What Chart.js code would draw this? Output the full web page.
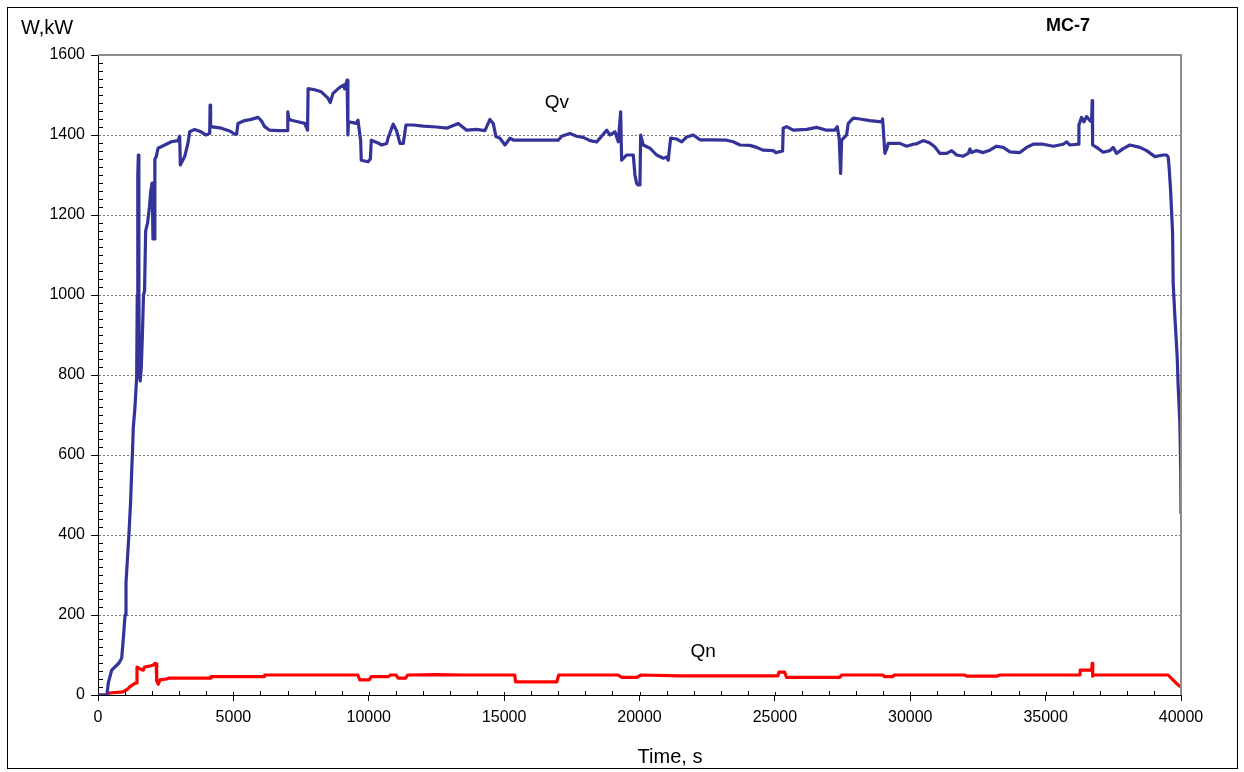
<!DOCTYPE html>
<html><head><meta charset="utf-8">
<script src="https://cdn.jsdelivr.net/npm/chart.js@4.4.0/dist/chart.umd.min.js"></script>
<style>html,body{margin:0;padding:0;background:#fff}#wrap{width:1244px;height:772px;position:relative}</style>
</head><body><div id="wrap"><canvas id="c"></canvas></div>
<script>
const qvTime=[0,330,380,505,775,875,925,1000,1034,1145,1207,1245,1280,1305,1366,1428,1450,1470,1490,1510,1530,1560,1600,1640,1680,1720,1760,1830,1900,1950,2000,2030,2070,2100,2153,2216,2463,2707,2954,3017,3040,3065,3202,3324,3387,3571,3804,3988,4125,4140,4160,4553,4864,5048,5120,5170,5418,5661,5909,6031,6156,6341,6647,6991,7010,7050,7139,7386,7633,7740,7760,8003,8247,8494,8579,8679,8926,9085,9111,9200,9230,9250,9539,9602,9700,9724,9971,10060,10093,10340,10477,10662,10721,10846,10905,11031,11153,11275,11374,11644,12013,12508,12877,13306,13616,13985,14292,14477,14598,14698,14846,15031,15216,15363,16999,17125,17431,17679,17923,18170,18418,18539,18786,18908,19093,19215,19304,19340,19525,19770,19832,19894,19953,20016,20042,20138,20385,20633,20877,21002,21061,21150,21372,21556,21741,21985,22232,22723,23218,23462,23709,24078,24326,24570,24939,25039,25286,25308,25433,25677,26172,26541,26911,27218,27302,27376,27428,27465,27650,27709,27894,28141,28510,28942,28979,29064,29149,29186,29619,29865,30110,30235,30479,30726,30911,31095,31343,31530,31713,31956,32141,32204,32266,32451,32694,32942,33189,33433,33681,34050,34297,34543,34912,35280,35649,35775,35897,36204,36229,36328,36413,36513,36635,36698,36720,36735,36882,37126,37374,37496,37620,37866,38112,38482,38729,39036,39342,39467,39527,39560,39615,39689,39711,39774,39859,39896,39958,39990,40000];
const qvValue=[0,0,30,62,80,92,132,200,280,405,487,562,620,670,720,795,1000,1300,1350,1000,800,785,820,900,1000,1010,1160,1180,1220,1260,1280,1140,1140,1340,1346,1367,1375,1383,1386,1397,1325,1325,1346,1380,1408,1414,1408,1400,1404,1475,1421,1417,1410,1402,1402,1429,1436,1439,1444,1436,1421,1412,1411,1411,1458,1440,1437,1433,1429,1412,1516,1513,1508,1492,1481,1504,1519,1525,1515,1537,1400,1433,1429,1437,1387,1337,1333,1340,1387,1380,1375,1379,1394,1417,1427,1410,1379,1379,1425,1425,1422,1420,1417,1429,1412,1414,1411,1439,1429,1396,1392,1375,1392,1387,1387,1397,1404,1397,1394,1386,1383,1392,1412,1400,1408,1383,1458,1337,1350,1350,1300,1279,1275,1275,1400,1375,1367,1350,1342,1345,1337,1392,1390,1383,1395,1400,1388,1388,1387,1383,1375,1374,1369,1362,1361,1356,1360,1417,1421,1412,1414,1419,1412,1412,1421,1392,1304,1387,1400,1429,1442,1440,1436,1433,1440,1354,1369,1379,1379,1372,1377,1378,1386,1380,1370,1354,1354,1361,1350,1347,1354,1365,1356,1361,1356,1362,1372,1369,1358,1356,1369,1377,1377,1372,1377,1383,1375,1377,1425,1444,1433,1446,1436,1433,1486,1375,1369,1357,1361,1369,1354,1366,1375,1369,1361,1346,1350,1350,1345,1320,1262,1155,1030,946,846,771,680,560,455];
const qnTime=[0,330,420,923,1100,1182,1366,1420,1440,1560,1673,1720,1900,2050,2105,2150,2168,2227,2290,2537,2600,4155,4170,6134,6150,9598,9669,10023,10093,10728,10798,11012,11083,11363,11434,12500,13500,15392,15420,16947,17017,19207,19351,19900,20057,21493,25112,25150,25358,25433,27400,27465,28990,29050,29360,29400,32000,32100,33200,33300,36265,36280,36700,36720,36740,36757,39527,39711,39896,40000];
const qnValue=[0,0,5,8,15,21,29,30,70,65,62,70,72,75,79,78,35,27,38,40,42,42,46,46,50,50,38,38,46,46,50,50,42,42,50,51,50,50,33,33,50,50,44,44,50,48,48,57,57,44,44,50,50,46,46,50,50,47,47,50,50,62,62,79,47,50,50,37,25,20];
const xTickValues=[0,5000,10000,15000,20000,25000,30000,35000,40000];
const yTickValues=[0,200,400,600,800,1000,1200,1400,1600];
const seriesNames=['Qv','Qn'];

const FONT="'Liberation Sans', Arial, sans-serif";
const L=98,R=1181,T=55,B=695;

const extras={
  id:'extras',
  afterDraw(chart){
    const ctx=chart.ctx, xs=chart.scales.x, ys=chart.scales.y;
    ctx.save();
    ctx.strokeStyle='#000';ctx.lineWidth=1;
    ctx.strokeRect(7.5,7.5,1230,761);
    ctx.strokeStyle='#8c8c8c';ctx.lineWidth=2;
    ctx.beginPath();ctx.moveTo(L,T);ctx.lineTo(R,T);ctx.lineTo(R,B);ctx.stroke();
    ctx.strokeStyle='#000';ctx.lineWidth=1;
    ctx.beginPath();
    for(let v=20;v<1600;v+=20){ if(v%200===0) continue; const y=Math.round(ys.getPixelForValue(v))+0.5; ctx.moveTo(L,y);ctx.lineTo(L+5,y);}
    for(let t=1000;t<40000;t+=1000){ const x=Math.round(xs.getPixelForValue(t))+0.5; ctx.moveTo(x,B);ctx.lineTo(x,B-(t%5000===0?3:4));}
    ctx.stroke();
    ctx.fillStyle='#000';ctx.textBaseline='middle';
    ctx.font='19px '+FONT;ctx.textAlign='center';
    ctx.fillText(seriesNames[0],xs.getPixelForValue(16950),ys.getPixelForValue(1480));
    ctx.fillText(seriesNames[1],xs.getPixelForValue(22350),ys.getPixelForValue(107));
    ctx.font='20px '+FONT;ctx.textAlign='left';
    ctx.fillText('W,kW',21,28);
    ctx.textAlign='center';
    ctx.fillText('Time, s',670,757);
    ctx.font='bold 18px '+FONT;
    ctx.fillText('MC-7',1068,26);
    ctx.restore();
  }
};

const toPts=(ts,vs)=>ts.map((t,i)=>({x:t,y:vs[i]}));
new Chart(document.getElementById('c'),{
  type:'line',
  data:{datasets:[
    {label:seriesNames[0],data:toPts(qvTime,qvValue),borderColor:'#333399',borderWidth:3.2,pointRadius:0,tension:0,borderJoinStyle:'round',borderCapStyle:'round'},
    {label:seriesNames[1],data:toPts(qnTime,qnValue),borderColor:'#ff0000',borderWidth:3.2,pointRadius:0,tension:0,borderJoinStyle:'round',borderCapStyle:'round'}
  ]},
  options:{
    responsive:true,maintainAspectRatio:false,animation:false,
    layout:{padding:{left:0,right:1244-R,top:T,bottom:0}},
    plugins:{legend:{display:false},tooltip:{enabled:false},title:{display:false}},
    scales:{
      x:{type:'linear',min:0,max:40000,
        afterBuildTicks:s=>{s.ticks=xTickValues.map(v=>({value:v}));},
        afterFit:s=>{s.height=772-B;},
        ticks:{autoSkip:false,maxRotation:0,color:'#000',font:{family:FONT,size:16},padding:7,callback:v=>String(v)},
        grid:{drawOnChartArea:false,tickLength:6,tickColor:'#000',color:'#000'},
        border:{color:'#000',width:1}
      },
      y:{min:0,max:1600,
        afterBuildTicks:s=>{s.ticks=yTickValues.map(v=>({value:v}));},
        afterFit:s=>{s.width=L;},
        ticks:{color:'#000',font:{family:FONT,size:16},padding:6,callback:v=>String(v)},
        grid:{color:'#777',lineWidth:1,tickLength:7,tickColor:'#000'},
        border:{color:'#000',width:1,dash:[2,2]}
      }
    }
  },
  plugins:[extras]
});
</script></body></html>
